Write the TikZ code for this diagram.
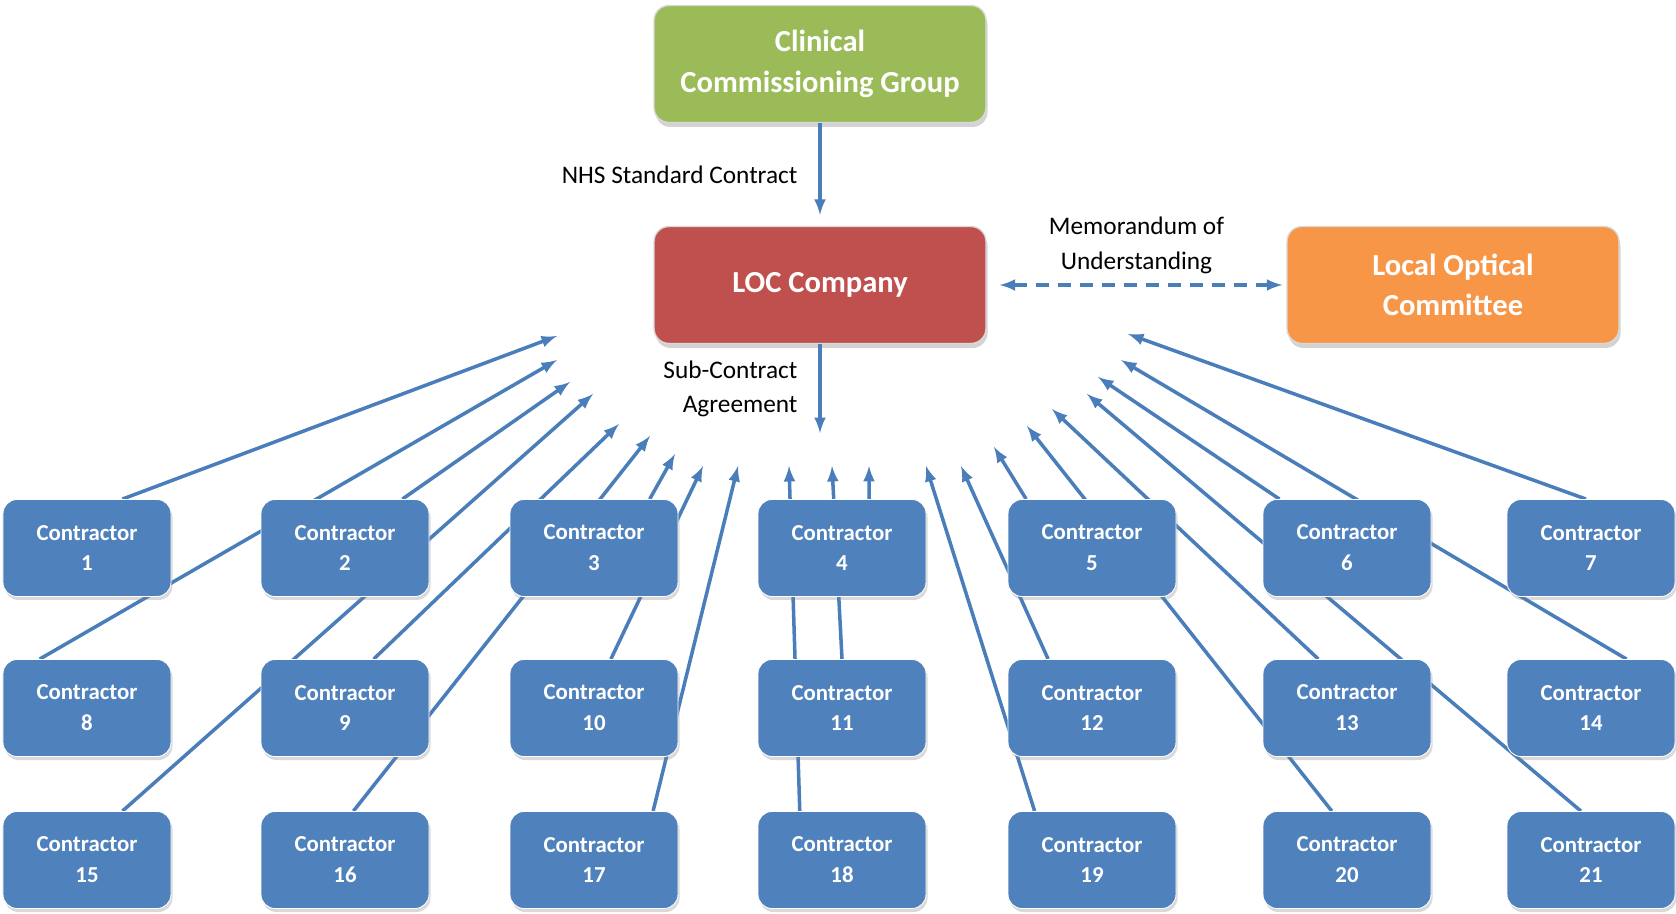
\documentclass[tikz,border=0pt]{standalone}
\usepackage{fontspec}
\setmainfont{Carlito}
\usetikzlibrary{calc,backgrounds,shadows}

\definecolor{ccggreen}{HTML}{9BBB59}
\definecolor{locred}{HTML}{C0504D}
\definecolor{loorange}{HTML}{F79646}
\definecolor{contblue}{HTML}{4F81BD}
\definecolor{linkblue}{HTML}{4A7EBB}

\begin{document}
\begin{tikzpicture}[>=latex, x=0.2mm, y=-0.2mm,
  topbox/.style={draw=black!15, line width=0.8pt, rounded corners=3mm,
    minimum width=66.4mm, minimum height=23.4mm, align=center, text=white,
    font=\fontsize{17.4}{23}\selectfont\bfseries,
    drop shadow={shadow xshift=0.3mm, shadow yshift=-0.9mm, opacity=0.35}},
  contractor/.style={fill=contblue, draw=white, line width=0.5pt,
    rounded corners=2.8mm, minimum width=33.6mm, minimum height=19.4mm,
    align=center, text=white, font=\fontsize{13}{17.6}\selectfont\bfseries,
    drop shadow={shadow xshift=0.3mm, shadow yshift=-0.7mm, opacity=0.3}},
  link/.style={draw=linkblue, line width=2pt, ->},
  lbl/.style={font=\fontsize{14.4}{19.4}\selectfont}]
\useasboundingbox (0,0) rectangle (1676,914);

% Commissioning side
\node[topbox, fill=ccggreen] (ccg) at (820,64) {Clinical\\Commissioning Group};
\node[topbox, fill=locred] (loc) at (820,285) {LOC Company};
\node[topbox, fill=loorange] (loo) at (1453,285) {Local Optical\\Committee};

% Contracts
\coordinate (sub) at (820,433);
\draw[link, shorten >=2.2mm] (ccg) -- node[lbl, left=3mm] {NHS Standard Contract} (loc);
\draw[link] (loc) -- node[lbl, left=3mm, align=right] {Sub-Contract\\Agreement} (sub);
\draw[link, <->, dashed, dash pattern=on 2.6mm off 1.8mm, shorten <=2.6mm, shorten >=0.8mm]
  (loc) -- node[lbl, above=0.8mm, align=center] {Memorandum of\\Understanding} (loo);

% Contractors, 7 per row
\foreach \cx [count=\k] in {87,345,594,842,1092,1347,1591}
  \foreach \cy [count=\r from 0] in {548,708,860} {
    \pgfmathtruncatemacro\n{7*\r+\k}
    \node[contractor] (c\n) at (\cx,\cy) {Contractor\\\n};
  }

% Lines back to the LOC company
\begin{scope}[on background layer]
\foreach \n/\pos/\tx/\ty in {
    1/.71/557/336, 8/.22/557/360, 2/.84/570/382, 15/.71/593/394,
    9/.67/619/424, 16/.55/650/436, 3/.83/675/454, 10/.6/703/466,
    17/.85/738/466, 18/.25/789/466, 11/.5/832/466, 4/.66/869/466,
    19/.16/926/466, 12/.24/961/466, 5/.11/994/447, 20/.41/1027/426,
    13/.33/1052/409, 21/.44/1087/394, 6/.1/1098/377, 14/.71/1121/360,
    7/.47/1128/334} {
  \coordinate (tip\n) at (\tx,\ty);
  \draw[link] ($(c\n.north west)!\pos!(c\n.north east)$) -- (tip\n);
}
\end{scope}
\end{tikzpicture}
\end{document}
